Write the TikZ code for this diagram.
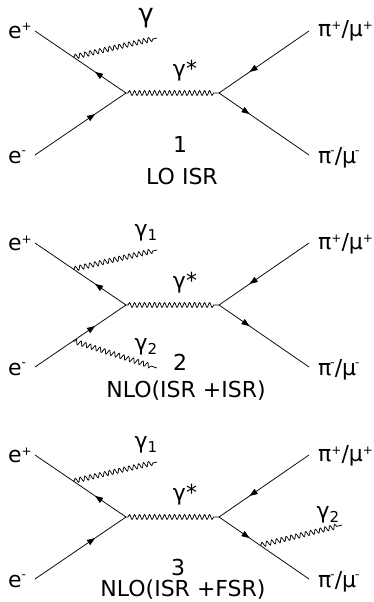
\documentclass[tikz,border=0pt]{standalone}
\usepackage{fontspec}
\setmainfont{DejaVu Sans}
\usetikzlibrary{decorations.pathmorphing,decorations.markings,arrows.meta,calc}

\newcommand\supp[1]{\raisebox{7pt}{\fontsize{12}{12}\selectfont #1}}
\newcommand\supm[1]{\raisebox{8.5pt}{\fontsize{12}{12}\selectfont #1}}
\newcommand\subb[1]{\raisebox{-4pt}{\fontsize{15}{15}\selectfont #1}}

\tikzset{
  fermion/.style={line width=0.75pt},
  arrowin/.style={fermion, postaction={decorate},
    decoration={markings, mark=at position 0.66 with {\arrow{Triangle[length=8pt,width=6pt]}}}},
  arrowout/.style={fermion, postaction={decorate},
    decoration={markings, mark=at position 0.34 with {\arrow{Triangle[length=8pt,width=6pt]}}}},
  photon/.style={line width=0.75pt, decorate,
    decoration={snake, amplitude=2.4pt, segment length=5pt, pre length=1pt, post length=4pt}},
  vphoton/.style={line width=0.75pt, decorate,
    decoration={snake, amplitude=2.4pt, segment length=5pt, pre length=2pt, post length=3pt}},
  lbl/.style={inner sep=0pt, anchor=base west, font=\fontsize{22}{26}\selectfont},
  clbl/.style={inner sep=0pt, anchor=base, font=\fontsize{22}{26}\selectfont},
}

% common skeleton: #1 suffix, #2 yshift
\newcommand\feyn[2]{%
\begin{scope}[yshift=#2]
  \coordinate (v#1) at (126,93);
  \coordinate (w#1) at (219,93);
  \coordinate (ea#1) at (35,31);
  \coordinate (eb#1) at (35,155);
  \coordinate (pa#1) at (309,31);
  \coordinate (pb#1) at (309,155);
  \draw[arrowout] (v#1) -- (ea#1);
  \draw[arrowin] (eb#1) -- (v#1);
  \draw[arrowin] (pa#1) -- (w#1);
  \draw[arrowout] (w#1) -- (pb#1);
  \draw[vphoton] (v#1) -- (w#1);
  \node[lbl] (lep#1) at (8,38) {e\supp{+}};
  \node[lbl] (lem#1) at (8,163) {e\supm{-}};
  \node[lbl] (lpp#1) at (318,37) {π\supp{+}/μ\supp{+}};
  \node[lbl] (lpm#1) at (318,163) {π\kern-1pt\supm{-}/μ\kern-1pt\supm{-}};
  \node[clbl] (lgs#1) at (185,76) {γ*};
  \coordinate (ga#1) at ($(ea#1)!0.42!(v#1)$);
  \coordinate (gae#1) at (157,38);
  \draw[photon] (ga#1) -- (gae#1);
\end{scope}}

\begin{document}
\begin{tikzpicture}[x=1pt,y=-1pt]
\useasboundingbox (0,0) rectangle (374,602);

% ---------- diagram 1 ----------
\feyn{a}{0pt}
\node[clbl, font=\fontsize{26}{30}\selectfont] (lga) at (146,23) {γ};
\node[clbl] (na) at (180,152) {1};
\node[clbl] (ta) at (182,184) {LO ISR};

% ---------- diagram 2 ----------
\feyn{b}{-212pt}
\begin{scope}[yshift=-212pt]
  \node[clbl] (lg1b) at (146,24) {γ\subb{1}};
  \coordinate (gbs) at ($(ebb)!0.42!(vb)$);
  \coordinate (gbe) at (157,156);
  \draw[photon] (gbs) -- (gbe);
  \node[clbl] (lg2b) at (146,138) {γ\subb{2}};
  \node[clbl] (nb) at (180,158) {2};
  \node[clbl] (tb) at (186,185) {NLO(ISR +ISR)};
\end{scope}

% ---------- diagram 3 ----------
\feyn{c}{-424pt}
\begin{scope}[yshift=-424pt]
  \node[clbl] (lg1c) at (146,24) {γ\subb{1}};
  \coordinate (gcs) at ($(wc)!0.455!(pbc)$);
  \coordinate (gce) at (342,101);
  \draw[photon] (gcs) -- (gce);
  \node[clbl] (lg2c) at (328,94) {γ\subb{2}};
  \node[clbl] (nc) at (178,151) {3};
  \node[clbl] (tc) at (183,172) {NLO(ISR +FSR)};
\end{scope}
\end{tikzpicture}
\end{document}
